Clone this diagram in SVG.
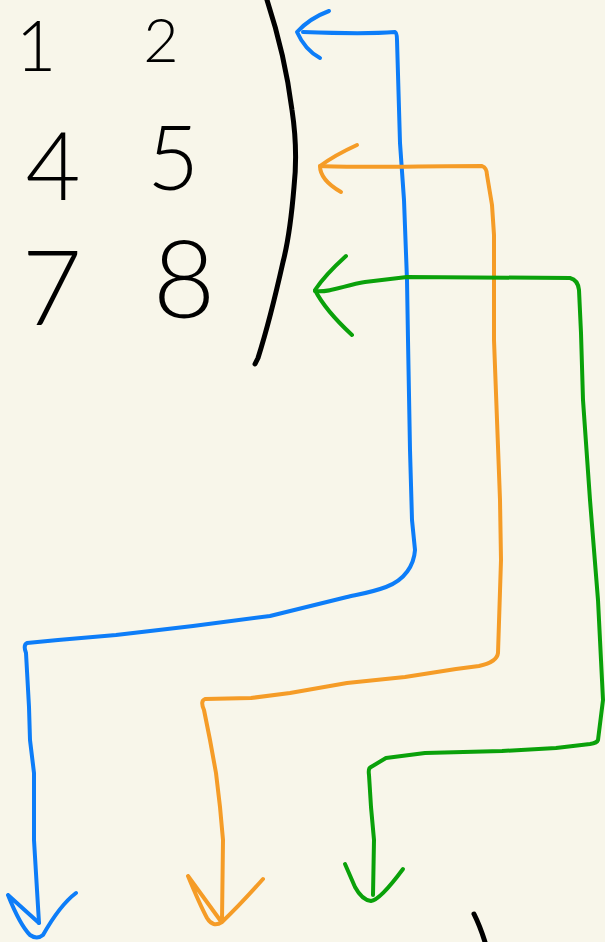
<svg xmlns="http://www.w3.org/2000/svg" width="605" height="942" viewBox="0 0 605 942">
<style>
.d{font-family:"Lato","Liberation Sans",sans-serif;font-weight:300;fill:#000;text-anchor:middle}
.ink{fill:none;stroke-linecap:round;stroke-linejoin:round}
.k{stroke:#000;stroke-width:5}
.b{stroke:#0d7df8;stroke-width:4}
.o{stroke:#f59c27;stroke-width:4}
.g{stroke:#0aa10a;stroke-width:4}
</style>
<rect width="605" height="942" fill="#f8f6ea"/>
<g id="matrix">
<text class="d" x="36" y="71" font-size="70">1</text>
<text class="d" x="161" y="62" font-size="61">2</text>
<text class="d" x="53" y="200" font-size="95">4</text>
<text class="d" x="173" y="190" font-size="90">5</text>
<text class="d" x="52" y="325" font-size="104">7</text>
<text class="d" x="184" y="318" font-size="108">8</text>
<path class="ink k" d="M267,0 Q285,55 292,110 Q298,150 294,187 Q290,235 283,262 Q270,320 258,358 L255,364"/>
</g>
<g id="mark">
<path class="ink k" d="M474,914 Q480,926 485,942"/>
</g>
<g id="connectors">
<g id="blue">
<path class="ink b" d="M303,32 C330,33 370,34 395,32 Q397,33 397,40 L400,143 L404,200 L407,280 L408,340 L410,450 L412,520 L415,550 C414,565 405,580 386,587 C370,593 355,595 347,597 L270,616 L193,626 L116,635 L58,640 L27,643 Q23,645 26,653 L29,707 L30,740 L34,773 L34,840 L37,890 L39,923"/>
<path class="ink b" d="M329,11 Q310,18 297,32 Q305,50 320,58"/>
<path class="ink b" d="M8,895 L39,923 M8,895 Q20,925 30,935 Q37,940 43,935 Q60,905 76,893"/>
</g>
<g id="orange">
<path class="ink o" d="M320,166 C360,168 420,166 482,166 Q487,168 487,175 L492,205 L494,235 L494,340 L497,420 L500,500 L501,560 L498,653 Q497,662 479,666 L456,669 L405,677 L347,683 L290,693 L251,698 L205,699 Q200,701 204,710 L210,740 L216,773 L220,807 L223,840 L222,920"/>
<path class="ink o" d="M357,145 Q335,155 320,166 Q320,180 341,192"/>
<path class="ink o" d="M188,876 L220,920 M188,876 Q200,905 207,918 Q213,928 222,922 Q240,905 263,879"/>
</g>
<g id="green">
<path class="ink g" d="M315,291 C330,293 345,285 365,282 L407,277 L570,278 Q578,280 579,290 L581,333 L583,400 L590,500 L598,600 L603,700 L598,740 Q597,743 590,744 L556,748 L502,751 L425,753 L386,758 L371,767 Q368,768 369,775 L371,807 L374,840 L373,895"/>
<path class="ink g" d="M346,256 Q325,275 315,290 Q325,310 352,335"/>
<path class="ink g" d="M345,864 L355,887 Q362,900 371,901 Q380,900 403,869"/>
</g>
</g>
</svg>
